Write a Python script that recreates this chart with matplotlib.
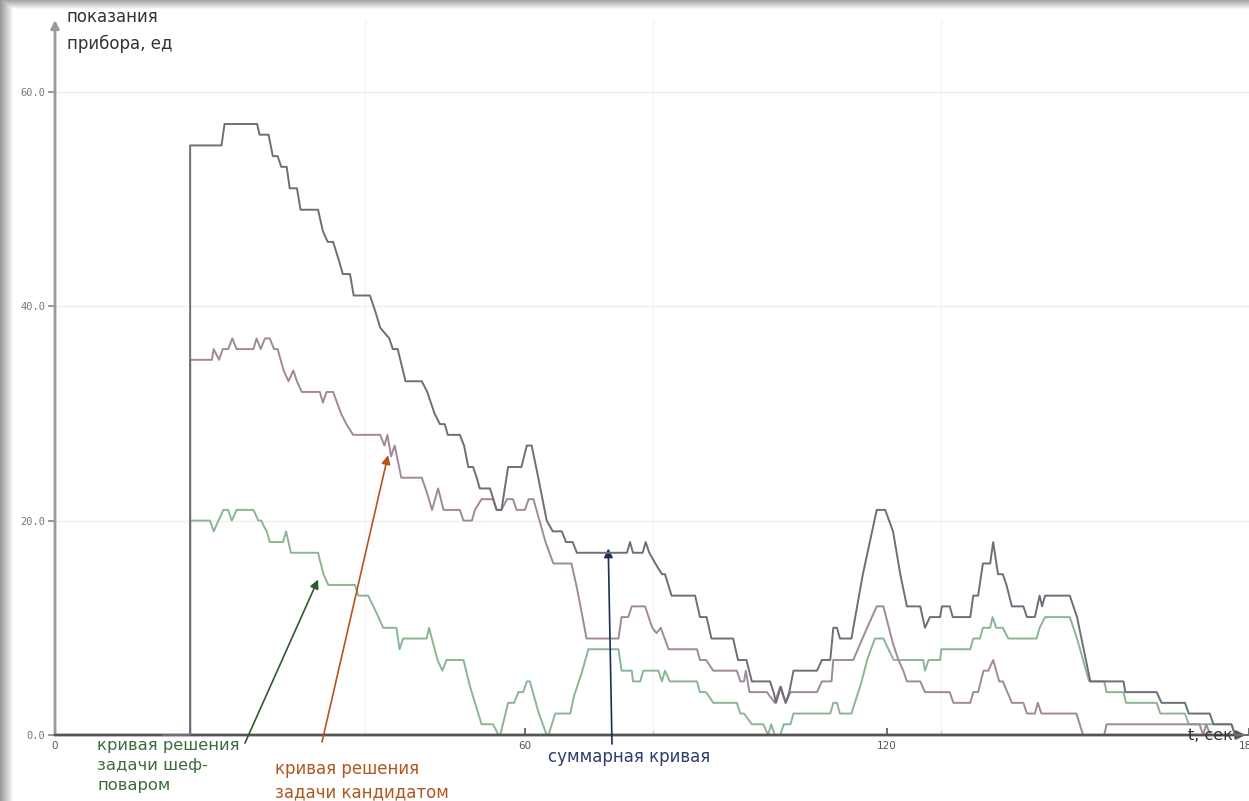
import matplotlib.pyplot as plt
import numpy as np

plt.rcParams['font.family'] = ['DejaVu Sans']

# summary curve (t, value)
sum_t = [0, 4.5, 4.5, 9.7, 10.2, 15.6, 16.0, 17.5, 18.2, 19.0, 19.6, 20.5, 21.0, 22.2, 22.8, 25.7,
         26.5, 27.3, 28.2, 29.3, 29.8, 31.0, 31.6, 34.3, 35.2, 36.0, 37.5, 38.1, 38.9, 40.2, 42.9,
         43.8, 45.0, 45.9, 46.7, 47.2, 49.2, 49.9, 50.6, 51.4, 52.0, 52.5, 54.2, 55.3, 56.1, 57.2,
         59.4, 60.3, 61.1, 62.2, 63.6, 64.6, 66.1, 66.8, 67.9, 68.6, 76.9, 77.4, 77.9, 79.5, 80.0,
         80.6, 81.6, 82.7, 83.2, 84.3, 88.2, 89.0, 90.1, 90.9, 94.5, 95.3, 96.7, 97.6, 100.6, 101.2,
         101.6, 102.4, 103.2, 103.8, 104.5, 108.4, 109.2, 110.6, 111.1, 111.7, 112.2, 114.1, 116.0,
         118.3, 119.7, 121.0, 122.2, 123.3, 125.5, 126.3, 127.1, 128.8, 129.1, 130.4, 130.9, 133.8,
         134.3, 135.1, 135.9, 137.1, 137.6, 138.4, 139.2, 139.8, 140.7, 142.6, 143.2, 144.5, 145.3,
         145.7, 146.2, 150.3, 151.5, 153.7, 159.2, 159.5, 164.7, 165.5, 169.4, 170.0, 173.5, 174.1,
         177.1, 177.7, 180]
sum_v = [0, 0, 55, 55, 57, 57, 56, 56, 54, 54, 53, 53, 51, 51, 49, 49,
         47, 46, 46, 44, 43, 43, 41, 41, 39.5, 38, 37, 36, 36, 33, 33,
         32, 30, 29, 29, 28, 28, 27, 25, 25, 24, 23, 23, 21, 21, 25,
         25, 27, 27, 24, 20, 19, 19, 18, 18, 17, 17, 18, 17, 17, 18,
         17, 16, 15, 15, 13, 13, 11, 11, 9, 9, 7, 7, 5, 5, 4,
         3, 4.5, 3, 4, 6, 6, 7, 7, 10, 10, 9, 9, 15,
         21, 21, 19, 15, 12, 12, 10, 11, 11, 12, 12, 11, 11,
         13, 13, 16, 16, 18, 15, 15, 14, 12, 12, 11, 11, 13,
         12, 13, 13, 11, 5, 5, 4, 4, 3, 3, 2, 2, 1,
         1, 0, 0]

# candidate curve
cand_t = [0, 4.5, 4.5, 8.1, 8.4, 9.3, 9.9, 10.8, 11.5, 12.2, 15.0, 15.5, 16.2, 16.9, 17.7, 18.4,
          19.0, 20.0, 20.8, 21.6, 22.2, 23.0, 26.0, 26.5, 27.1, 28.2, 29.5, 30.4, 31.5, 36.0, 36.7,
          37.2, 37.8, 38.4, 39.5, 40.1, 42.9, 43.8, 44.6, 45.6, 46.5, 49.2, 49.8, 51.2, 51.7, 52.8,
          54.7, 55.3, 56.1, 57.0, 58.0, 58.6, 60.0, 60.6, 61.4, 62.4, 63.4, 64.7, 67.7, 68.5, 69.2,
          70.2, 75.5, 76.0, 77.1, 77.7, 79.9, 81.1, 81.8, 82.5, 83.8, 88.5, 89.0, 90.0, 91.2, 95.1,
          95.7, 96.3, 96.6, 97.2, 100.1, 101.4, 102.3, 103.2, 104.0, 108.4, 109.2, 110.8, 111.1, 114.4,
          116.7, 118.3, 119.4, 121.0, 121.9, 122.7, 123.3, 125.5, 126.3, 130.4, 131.0, 133.8, 134.3,
          135.1, 136.0, 136.8, 137.6, 138.6, 139.2, 140.7, 142.6, 143.2, 144.5, 145.0, 145.6, 151.4,
          152.5, 156.0, 156.4, 171.8, 172.4, 172.9, 173.6, 180]
cand_v = [0, 0, 35, 35, 36, 35, 36, 36, 37, 36, 36, 37, 36, 37, 37, 36,
          36, 34, 33, 34, 33, 32, 32, 31, 32, 32, 30, 29, 28, 28, 27,
          28, 26, 27, 24, 24, 24, 22.5, 21, 23, 21, 21, 20, 20, 21, 22,
          22, 21, 21, 22, 22, 21, 21, 22, 22, 20, 18, 16, 16, 14, 12,
          9, 9, 11, 11, 12, 12, 10, 9.5, 10, 8, 8, 7, 7, 6, 6,
          5, 5, 6, 4, 4, 3, 4.5, 3, 4, 4, 5, 5, 7, 7,
          10, 12, 12, 8.5, 7, 6, 5, 5, 4, 4, 3, 3, 4,
          4, 6, 6, 7, 5, 5, 3, 3, 2, 2, 3, 2, 2,
          0, 0, 1, 1, 0, 1, 0, 0]

# chef curve
chef_t = [0, 4.5, 4.5, 7.8, 8.4, 9.2, 10.0, 10.8, 11.4, 12.2, 15.0, 15.8, 16.3, 16.7, 17.2, 17.7,
          19.9, 20.4, 21.2, 25.7, 26.6, 27.4, 31.8, 32.4, 34.0, 35.3, 36.5, 38.7, 39.2, 39.8, 43.7,
          44.1, 45.5, 46.3, 47.0, 49.8, 50.9, 52.8, 54.7, 55.6, 55.9, 57.2, 58.2, 58.9, 59.7, 60.3,
          60.8, 62.3, 63.6, 63.9, 65.0, 67.5, 68.1, 69.4, 70.5, 75.5, 76.0, 77.7, 77.9, 79.1, 79.6,
          82.1, 82.7, 83.2, 84.0, 88.5, 89.0, 90.0, 91.2, 95.1, 95.7, 96.3, 97.6, 99.5, 100.3, 100.8,
          101.4, 102.3, 102.9, 104.0, 104.5, 110.6, 111.1, 111.7, 112.2, 114.1, 115.8, 116.7, 118.0,
          119.4, 121.1, 126.0, 126.3, 126.9, 128.8, 129.0, 133.8, 134.3, 135.4, 135.9, 137.1, 137.5,
          138.1, 139.2, 140.1, 144.8, 145.3, 146.2, 150.3, 151.5, 153.5, 156.0, 156.4, 159.2, 159.6,
          164.7, 165.3, 169.4, 170.0, 177.1, 177.7, 180]
chef_v = [0, 0, 20, 20, 19, 20, 21, 21, 20, 21, 21, 20, 20, 19.5, 19, 18,
          18, 19, 17, 17, 15, 14, 14, 13, 13, 11.5, 10, 10, 8, 9, 9,
          10, 7, 6, 7, 7, 4.5, 1, 1, 0, 0, 3, 3, 4, 4, 5,
          5, 2, 0, 0, 2, 2, 3.6, 5.8, 8, 8, 6, 6, 5, 5, 6,
          6, 5, 6, 5, 5, 4, 4, 3, 3, 2, 2, 1, 1, 0, 1,
          0, 0, 1, 1, 2, 2, 3, 3, 2, 2, 5, 7, 9,
          9, 7, 7, 6, 7, 7, 8, 8, 9, 9, 10, 10, 11,
          10, 10, 9, 9, 10, 11, 11, 9, 5, 5, 4, 4, 3,
          3, 2, 2, 1, 1, 0, 0]

y_ticks = [0, 20, 40, 60]
y_tick_labels = ['0.0', '20.0', '40.0', '60.0']
x_ticks = [60, 120, 180]
x_tick_labels = ['60', '120', '180']

fig = plt.figure(figsize=(12.49, 8.01), dpi=100)

# screenshot shadow along the left and top edges
bg = fig.add_axes([0, 0, 1, 1], zorder=-5)
h, w = 801, 1249
shade = np.ones((h, w))
xs = np.arange(w)
ys = np.arange(h)
left = np.clip(xs / 13.0, 0, 1)
top = np.clip(ys / 9.0, 0, 1)
shade = np.minimum(shade, 0.6 + 0.4 * left[None, :])
shade = np.minimum(shade, 0.65 + 0.35 * top[:, None])
bg.imshow(shade, cmap='gray', vmin=0, vmax=1, aspect='auto', interpolation='bilinear')
bg.axis('off')

x_left = -17.9
ax = fig.add_axes([55 / 1249, 1 - 735 / 801, 1 - 55 / 1249, (735 - 20) / 801])
ax.patch.set_alpha(0)
ax.set_xlim(x_left, 180)
ax.set_ylim(0, 66.7)
for s in ax.spines.values():
    s.set_visible(False)

# faint grid
for yv in [20, 40, 60]:
    ax.axhline(yv, color='#efefef', lw=1, zorder=0)
for xv in [33.5, 81.2, 128.9]:
    ax.axvline(xv, color='#f3f3f3', lw=1, zorder=0)

ax.plot(chef_t, chef_v, color='#8ab694', lw=1.4, clip_on=False, zorder=3)
ax.plot(cand_t, cand_v, color='#a3889a', lw=1.4, clip_on=False, zorder=3)
ax.plot(sum_t, sum_v, color='#6e6e7a', lw=1.4, clip_on=False, zorder=4)

# axes with arrows
ax.annotate('', xy=(0, 1.0), xytext=(0, 0), xycoords='axes fraction',
            arrowprops=dict(arrowstyle='-|>', color='#9a9a9a', lw=2, mutation_scale=12,
                            shrinkA=0, shrinkB=0))
ax.annotate('', xy=(0.997, 0), xytext=(0, 0), xycoords='axes fraction',
            arrowprops=dict(arrowstyle='-|>', color='#555555', lw=2, mutation_scale=12,
                            shrinkA=0, shrinkB=0))

ax.set_yticks(y_ticks)
ax.set_yticklabels(y_tick_labels, family='DejaVu Sans Mono', fontsize=7.5, color='#777777')
ax.set_xticks([x_left] + x_ticks)
ax.set_xticklabels(['0'] + x_tick_labels, fontsize=7.5, color='#555555')
ax.tick_params(axis='y', length=5, width=1.2, color='#888888', pad=2)
ax.tick_params(axis='x', direction='in', length=5, width=1.2, color='#555555', pad=4)
ax.set_xticks([81.2, 128.9], minor=True)
ax.tick_params(axis='x', which='minor', direction='in', length=3, color='#bbbbbb')

# labels
fig.text(67 / 1249, 1 - 8 / 801, 'показания\nприбора, ед', fontsize=12, color='#333333',
         va='top', ha='left', linespacing=1.6)
fig.text(1188 / 1249, 1 - 736 / 801, 't, сек', fontsize=11.5, color='#333333',
         va='center', ha='left')

fig.text(97 / 1249, 1 - 738 / 801, 'кривая решения\nзадачи шеф-\nповаром', fontsize=11.8,
         color='#3d6b3d', va='top', ha='left', linespacing=1.42)
fig.text(275 / 1249, 1 - 760 / 801, 'кривая решения\nзадачи кандидатом', fontsize=12,
         color='#b0561e', va='top', ha='left', linespacing=1.4)
fig.text(548 / 1249, 1 - 757 / 801, 'суммарная кривая', fontsize=12,
         color='#2c3d6e', va='center', ha='left')

# pointer arrows
ax.annotate('', xy=(25.7, 14.5), xytext=(245 / 1249, 1 - 743 / 801), textcoords='figure fraction',
            arrowprops=dict(arrowstyle='-|>', color='#2f5a2f', lw=1.2, mutation_scale=13,
                            shrinkA=0, shrinkB=0), annotation_clip=False)
ax.annotate('', xy=(37.3, 26.1), xytext=(322 / 1249, 1 - 742 / 801), textcoords='figure fraction',
            arrowprops=dict(arrowstyle='-|>', color='#b5541c', lw=1.2, mutation_scale=13,
                            shrinkA=0, shrinkB=0), annotation_clip=False)
ax.annotate('', xy=(73.8, 17.4), xytext=(612 / 1249, 1 - 744 / 801), textcoords='figure fraction',
            arrowprops=dict(arrowstyle='-|>', color='#1f2f5a', lw=1.2, mutation_scale=13,
                            shrinkA=0, shrinkB=0), annotation_clip=False)

fig.savefig('out.png', dpi=100)
